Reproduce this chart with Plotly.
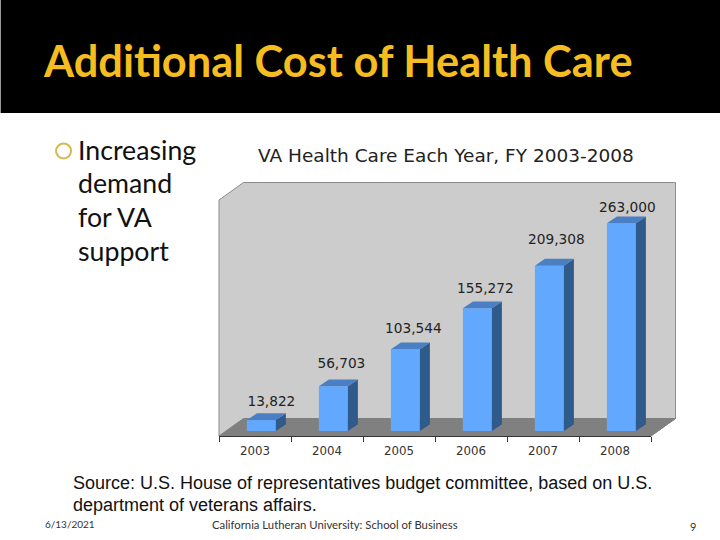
import plotly.graph_objects as go

# ---- data ----
years = ["2003", "2004", "2005", "2006", "2007", "2008"]
values = [13822, 56703, 103544, 155272, 209308, 263000]
value_labels = ["13,822", "56,703", "103,544", "155,272", "209,308", "263,000"]
bullet_lines = ["Increasing", "demand", "for VA", "support"]
title_text = "Additional Cost of Health Care"
chart_title = "VA Health Care Each Year, FY 2003-2008"
source_lines = ["Source: U.S. House of representatives budget committee, based on U.S.",
                "department of veterans affairs."]
footer_date = "6/13/2021"
footer_mid = "California Lutheran University: School of Business"
footer_page = "9"

# ---- layout constants (pixels) ----
W, H = 720, 540
L, R, T, B = 218.5, 650.7, 200.0, 436.0   # front plane of the 3D box
BASE = 431.0                              # where the bars stand
PX_PER_K = 0.79                           # px per 1000 units
DX, DY = 10.0, 6.8                        # bar depth
WALL_DX, WALL_DY = 24.5, 17.5             # box depth
cat_w = (R - L) / len(years)
units_x = 1 / cat_w
units_y = 1000 / PX_PER_K
BAR_W = 29 * units_x
BAR_SHIFT = 6.4 * units_x
label_up = [18, 22, 20, 19, 25, 15]
label_right = [10, 8, 8, 8, 7, 6]

px = lambda x: (x - L) / (R - L)
py = lambda y: (B - y) / (B - T)

xs = list(range(len(years)))
fc = [i + BAR_SHIFT for i in xs]
ymin = -(B - BASE) * units_y
ymax = (BASE - T) * units_y


def poly(points, color, line=None):
    return dict(type="path", xref="paper", yref="paper", layer="below",
                path="M" + "L".join(f"{px(a)},{py(b)}" for a, b in points) + "Z",
                fillcolor=color, line=dict(color=line or color, width=1))


shapes = [
    dict(type="rect", xref="paper", yref="paper", layer="below", x0=px(0), x1=px(W),
         y0=py(0), y1=py(113), fillcolor="#000000", line=dict(width=0)),
    poly([(L, T), (L + WALL_DX, T - WALL_DY), (R + WALL_DX, T - WALL_DY),
          (R + WALL_DX, B - WALL_DY), (R, B), (L, B)], "#cccccc", "#8c8c8c"),
    poly([(L, B), (L + WALL_DX, B - WALL_DY), (R + WALL_DX, B - WALL_DY), (R, B)],
         "#808080", "#808080"),
    dict(type="circle", xref="paper", yref="paper", layer="above",
         x0=px(55.5), x1=px(70.5), y0=py(143.5), y1=py(158.5),
         fillcolor="rgba(0,0,0,0)", line=dict(color="#d8b94e", width=2)),
]

fig = go.Figure()

# side and top faces derived from the values
for i, v in zip(xs, values):
    x0 = fc[i] - BAR_W / 2
    x1 = fc[i] + BAR_W / 2
    dx = DX * units_x
    dy = DY * units_y
    fig.add_trace(go.Scatter(x=[x1, x1 + dx, x1 + dx, x1, x1], y=[0, dy, v + dy, v, 0],
                             fill="toself", fillcolor="#2f5a8c", mode="lines",
                             line=dict(width=0), hoverinfo="skip", showlegend=False))
    fig.add_trace(go.Scatter(x=[x0, x0 + dx, x1 + dx, x1, x0], y=[v, v + dy, v + dy, v, v],
                             fill="toself", fillcolor="#4a7fc4", mode="lines",
                             line=dict(width=0), hoverinfo="skip", showlegend=False))

fig.add_trace(go.Bar(x=fc, y=values, width=BAR_W, marker=dict(color="#62a8ff", line=dict(width=0)),
                     showlegend=False))
fig.add_trace(go.Scatter(x=[i + r * units_x + BAR_SHIFT for i, r in zip(xs, label_right)],
                         y=[v + u * units_y for v, u in zip(values, label_up)],
                         mode="text", text=value_labels, cliponaxis=False,
                         textfont=dict(family="DejaVu Sans", size=13.7, color="#222222"),
                         showlegend=False))


def note(x, y, text, size, color, family, anchor="left", bold=False):
    return dict(xref="paper", yref="paper", x=px(x - 3), y=py(y), text=f"<b>{text}</b>" if bold else text,
                showarrow=False, xanchor=anchor, yanchor="middle", align=anchor,
                xshift=0, yshift=0, font=dict(size=size, color=color, family=family))


notes = [note(43, 60, title_text, 43.4, "#f5bd1f", "Lato", bold=True),
         note(258.5, 155.5, chart_title, 18.5, "#222222", "DejaVu Sans")]
for line, y in zip(bullet_lines, [150, 183, 217, 251]):
    notes.append(note(78, y, line, 26.7, "#111111", "Lato"))
for line, y in zip(source_lines, [483, 505]):
    notes.append(note(73, y, line, 18, "#111111", "Liberation Sans"))
notes += [note(45, 524, footer_date, 10, "#333333", "Lato"),
          note(212, 524, footer_mid, 11.3, "#333333", "Lato"),
          note(691, 526, footer_page, 11, "#333333", "Lato")]

fig.update_layout(
    width=W, height=H, autosize=False,
    margin=dict(l=L, r=W - R, t=T, b=H - B, pad=0),
    paper_bgcolor="#ffffff", plot_bgcolor="rgba(0,0,0,0)",
    showlegend=False, shapes=shapes, annotations=notes, barmode="overlay",
    xaxis=dict(range=[-0.5, len(years) - 0.5], tickmode="array", tickvals=xs, ticktext=years,
               ticks="", showgrid=False, zeroline=False, showline=True, linecolor="#333333",
               linewidth=1, fixedrange=True, ticklabelstandoff=4,
               tickfont=dict(family="DejaVu Sans", size=11.8, color="#333333"),
               minor=dict(tickmode="array", tickvals=[i - 0.5 for i in range(len(years) + 1)],
                          ticks="outside", ticklen=5, tickcolor="#333333", tickwidth=1, showgrid=False)),
    yaxis=dict(range=[ymin, ymax], visible=False, fixedrange=True),
)
fig.write_html("out.html", config=dict(displayModeBar=False),
               post_script="document.body.style.margin='0';document.body.style.overflow='hidden';")
